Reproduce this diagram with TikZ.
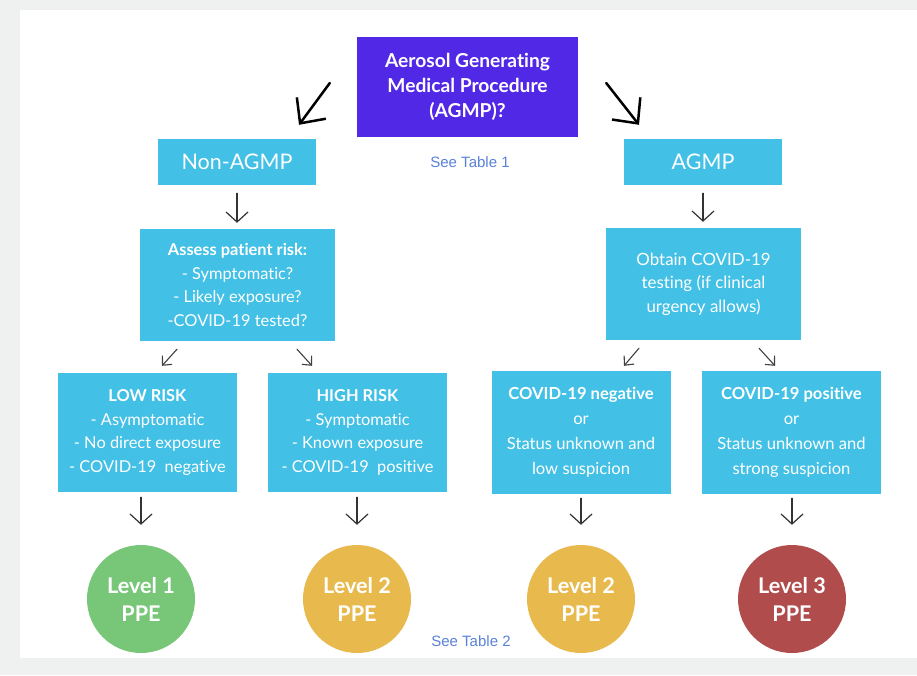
\documentclass[tikz,border=0pt]{standalone}
\usepackage{fontspec}
\setmainfont{Lato}[Ligatures=NoCommon]
\newfontfamily\tabfont{Liberation Sans}
\usepackage{xcolor}
\usepackage{tikz}
\usetikzlibrary{arrows.meta,positioning,calc}
\definecolor{pagegray}{HTML}{EFF1F0}
\definecolor{agcyan}{HTML}{42C0E5}
\definecolor{agpurple}{HTML}{5128E6}
\definecolor{lvgreen}{HTML}{78C779}
\definecolor{lvyellow}{HTML}{E8BA4D}
\definecolor{lvred}{HTML}{B04D4C}
\definecolor{tblue}{HTML}{5A82DA}
\newcommand{\bx}[2]{\fontsize{#1}{#2}\selectfont}

\begin{document}
\begin{tikzpicture}[
  x=1pt, y=-1pt,
  cb/.style={fill=agcyan,text=white,align=center,inner sep=0pt,font=\bx{16.4}{23.5}},
  qb/.style={fill=agpurple,text=white,align=center,inner sep=0pt,minimum width=221pt,minimum height=100pt,
             font=\bx{19.2}{25}\bfseries},
  hb/.style={cb,minimum width=158pt,minimum height=46pt,font=\bx{21.5}{24}},
  mb/.style={cb,minimum width=195pt,minimum height=112pt},
  rb/.style={cb,minimum width=179pt,minimum height=119pt},
  sb/.style={cb,minimum width=179pt,minimum height=123pt,font=\bx{16.6}{25}},
  lv/.style={circle,minimum size=108pt,inner sep=0pt,text=white,align=center,
             font=\bx{21.6}{28}\bfseries},
  tb/.style={text=tblue,font=\tabfont\bx{15}{16},inner sep=0pt},
  a/.style={draw=black!80,line width=1.2pt,line cap=round,-{Straight Barb[length=10pt,width=22pt]}},
  d/.style={draw=black!75,line width=1.1pt,line cap=round,-{Straight Barb[length=7pt,width=13pt]}},
  big/.style={draw=black,line width=2.5pt,line cap=round,-{Straight Barb[length=19pt,width=36pt]}}
]
\useasboundingbox (0,0) rectangle (917,675);
\fill[pagegray] (0,0) rectangle (917,675);
\fill[white] (20,10) rectangle (917,658);

% top question
\node[qb] (q) at (467.5,87) {Aerosol Generating\\Medical Procedure\\(AGMP)?};
\node[hb] (non) at (237,162) {Non-AGMP};
\node[hb] (agmp) at (703,162) {AGMP};
\node[tb] (t1) at (470,162) {See Table 1};

% second row
\node[mb] (assess) at (237.5,285) {\textbf{Assess patient risk:}\\- Symptomatic?\\- Likely exposure?\\-COVID-19 tested?};
\node[mb,font=\bx{16.9}{23.5}] (obtain) at (703.5,284) {Obtain COVID-19\\testing (if clinical\\urgency allows)};

% risk boxes
\node[rb] (low) at (147.5,432.5) {\textbf{LOW RISK}\\- Asymptomatic\\- No direct exposure\\- COVID-19~ negative};
\node[rb] (high) at (357.5,432.5) {\textbf{HIGH RISK}\\- Symptomatic\\- Known exposure\\- COVID-19~ positive};
\node[sb] (neg) at (581,432.5) {\textbf{COVID-19 negative}\\or\\Status unknown and\\low suspicion};
\node[sb] (pos) at (791.5,432.5) {\textbf{COVID-19 positive}\\or\\Status unknown and\\strong suspicion};

% PPE levels
\node[lv,fill=lvgreen] (l1) at (141,599) {Level 1\\PPE};
\node[lv,fill=lvyellow] (l2a) at (357,599) {Level 2\\PPE};
\node[lv,fill=lvyellow] (l2b) at (581,599) {Level 2\\PPE};
\node[lv,fill=lvred] (l3) at (792,599) {Level 3\\PPE};
\node[tb] (t2) at (471,641) {See Table 2};

% arrows
\draw[big] ([shift={(-27,-4)}]q.west) -- ([shift={(62,-14)}]non.north);
\draw[big] ([shift={(28,-4)}]q.east) -- ([shift={(-64,-14)}]agmp.north);
\draw[a,shorten <=8pt,shorten >=6pt] (non.south) -- (non.south |- assess.north);
\draw[a,shorten <=8pt,shorten >=6pt] (agmp.south) -- (agmp.south |- obtain.north);
\draw[d] ([shift={(-60.5,8)}]assess.south) -- ([shift={(14.5,-7)}]low.north);
\draw[d] ([shift={(59.5,8)}]assess.south) -- ([shift={(-45.5,-7)}]high.north);
\draw[d] ([shift={(-64.5,8)}]obtain.south) -- ([shift={(43,-5)}]neg.north);
\draw[d] ([shift={(55.5,8)}]obtain.south) -- ([shift={(-16.5,-5)}]pos.north);
\draw[a,shorten <=5pt,shorten >=20pt] (l1 |- low.south) -- (l1.north);
\draw[a,shorten <=5pt,shorten >=20pt] (l2a |- high.south) -- (l2a.north);
\draw[a,shorten <=4pt,shorten >=20pt] (l2b |- neg.south) -- (l2b.north);
\draw[a,shorten <=4pt,shorten >=20pt] (l3 |- pos.south) -- (l3.north);
\end{tikzpicture}
\end{document}
